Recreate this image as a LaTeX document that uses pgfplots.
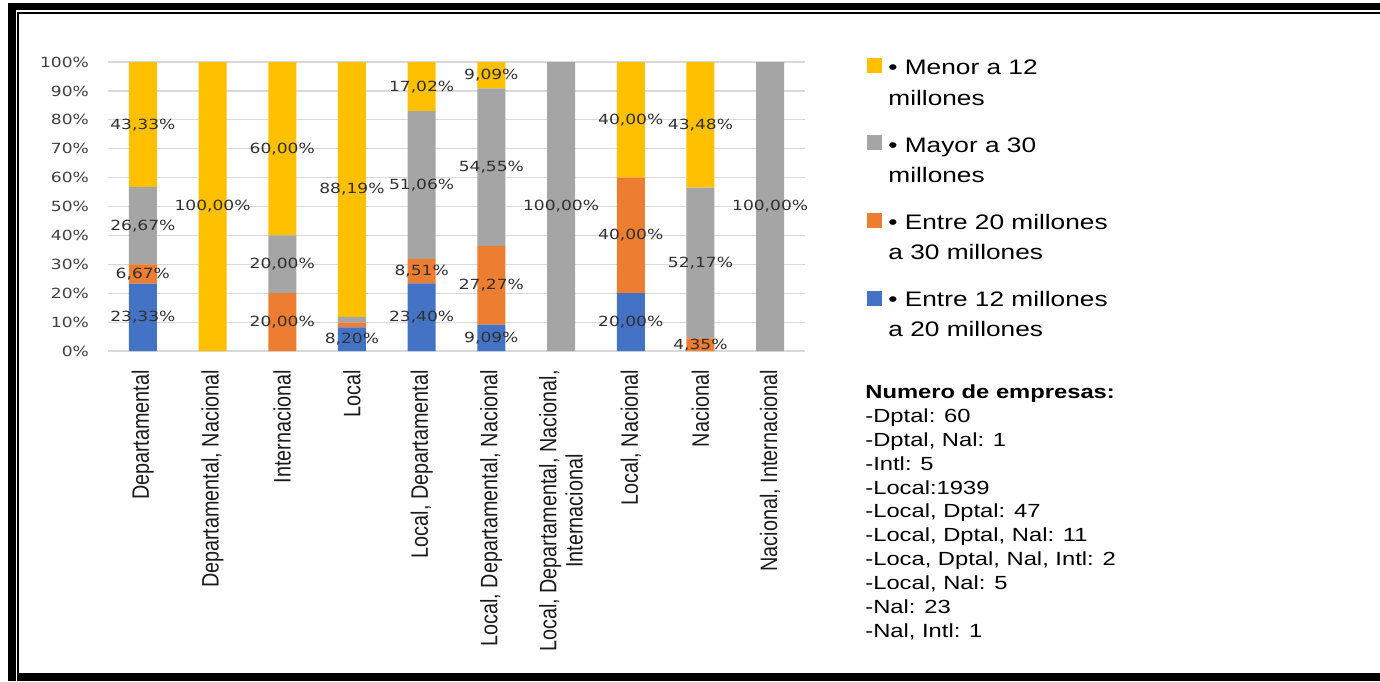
\documentclass[border=0pt]{standalone}
\usepackage{pgfplots}
\pgfplotsset{compat=1.18}
\usepackage{pgfplotstable}
\usepackage{fontspec}
\setmainfont{Liberation Sans}
\newfontfamily\legfont[FakeStretch=1.25]{Liberation Sans}
\newfontfamily\tickfont[FakeStretch=1.22]{DejaVu Sans}
\definecolor{cblue}{HTML}{4472C4}
\definecolor{corange}{HTML}{ED7D31}
\definecolor{cgray}{HTML}{A5A5A5}
\definecolor{cyellow}{HTML}{FFC000}
\definecolor{gridgray}{HTML}{D9D9D9}
\definecolor{tickgray}{HTML}{404040}
\definecolor{labgray}{HTML}{303030}
\definecolor{cattext}{HTML}{1A1A1A}

\pgfplotstableread{
x b bl o ol g gl y yl
0 23.33 23,33\% 6.67 6,67\% 26.67 26,67\% 43.33 43,33\%
1 0 {} 0 {} 0 {} 100 100,00\%
2 0 {} 20 20,00\% 20 20,00\% 60 60,00\%
3 8.20 8,20\% 1.60 {} 2.01 {} 88.19 88,19\%
4 23.40 23,40\% 8.51 8,51\% 51.06 51,06\% 17.02 17,02\%
5 9.09 9,09\% 27.27 27,27\% 54.55 54,55\% 9.09 9,09\%
6 0 {} 0 {} 100 100,00\% 0 {}
7 20 20,00\% 40 40,00\% 0 {} 40 40,00\%
8 0 {} 4.35 4,35\% 52.17 52,17\% 43.48 43,48\%
9 0 {} 0 {} 100 100,00\% 0 {}
}\data

\begin{document}
\begin{tikzpicture}
\begin{axis}[
  at={(0pt,0pt)}, anchor=south west,
  scale only axis, width=348.5pt, height=144.5pt,
  ybar stacked, bar width=14pt,
  xmin=-0.5, xmax=9.5, ymin=0, ymax=100, enlargelimits=false,
  xtick={0,1,2,3,4,5,6,7,8,9},
  xticklabels={Departamental, {Departamental, Nacional}, Internacional, Local, {Local, Departamental}, {Local, Departamental, Nacional}, {Local, Departamental, Nacional,\\Internacional}, {Local, Nacional}, Nacional, {Nacional, Internacional}},
  ytick={0,10,20,30,40,50,60,70,80,90,100},
  yticklabel={\pgfmathprintnumber{\tick}\%},
  ymajorgrids, grid style={draw=gridgray, line width=0.6pt},
  axis line style={draw=none}, major tick length=0pt,
  /pgf/number format/assume math mode=true,
  yticklabel style={font=\tickfont\fontsize{7}{8}\selectfont, text=tickgray, xshift=-6pt},
  xticklabel style={font=\fontsize{9.9}{11}\selectfont, text=cattext, rotate=90, anchor=east, align=center, yscale=1.2},
  xticklabel shift=6pt,
  clip=false,
  point meta=explicit symbolic,
  nodes near coords={\pgfplotspointmeta},
  nodes near coords style={font=\tickfont\fontsize{7}{8}\selectfont, text=labgray, anchor=center},
]
\addplot[fill=cblue, draw=none] table[x=x, y=b, meta=bl]{\data};
\addplot[fill=corange, draw=none] table[x=x, y=o, meta=ol]{\data};
\addplot[fill=cgray, draw=none] table[x=x, y=g, meta=gl]{\data};
\addplot[fill=cyellow, draw=none] table[x=x, y=y, meta=yl]{\data};
\end{axis}
\begin{scope}[x=0.5pt, y=-0.5pt, shift={(-54pt,175.5pt)}]
  \useasboundingbox (0,0) rectangle (1380,681);
  % frame
  \fill[black] (8,3) rectangle (16,681);
  \fill[black] (8,3) rectangle (1380,10);
  \fill[black] (17,12.5) rectangle (1380,14);
  \fill[black] (17,13) rectangle (19,681);
  \fill[black] (17,673) rectangle (1380,681);
  % legend
  \fill[cyellow] (867,58) rectangle (882,73);
  \fill[cgray] (867,135) rectangle (882,150);
  \fill[corange] (867,213) rectangle (882,228);
  \fill[cblue] (867,291) rectangle (882,306);
  \begin{scope}[every node/.style={anchor=base west, inner sep=0pt, font=\legfont\fontsize{10.5}{12}\selectfont, text=black}]
    \node at (888,74) {• Menor a 12};
    \node at (888,105) {millones};
    \node at (888,152) {• Mayor a 30};
    \node at (888,182) {millones};
    \node at (888,229) {• Entre 20 millones};
    \node at (888,259) {a 30 millones};
    \node at (888,306) {• Entre 12 millones};
    \node at (888,336) {a 20 millones};
  \end{scope}
  \begin{scope}[every node/.style={anchor=base west, inner sep=0pt, font=\legfont\fontsize{9.5}{11}\selectfont, text=black}]
    \node at (865,398) {\bfseries Numero de empresas:};
    \node at (865,422) {-Dptal: 60};
    \node at (865,446) {-Dptal, Nal: 1};
    \node at (865,470) {-Intl: 5};
    \node at (865,494) {-Local:1939};
    \node at (865,517) {-Local, Dptal: 47};
    \node at (865,541) {-Local, Dptal, Nal: 11};
    \node at (865,565) {-Loca, Dptal, Nal, Intl: 2};
    \node at (865,589) {-Local, Nal: 5};
    \node at (865,613) {-Nal: 23};
    \node at (865,637) {-Nal, Intl: 1};
  \end{scope}
\end{scope}
\end{tikzpicture}
\end{document}
